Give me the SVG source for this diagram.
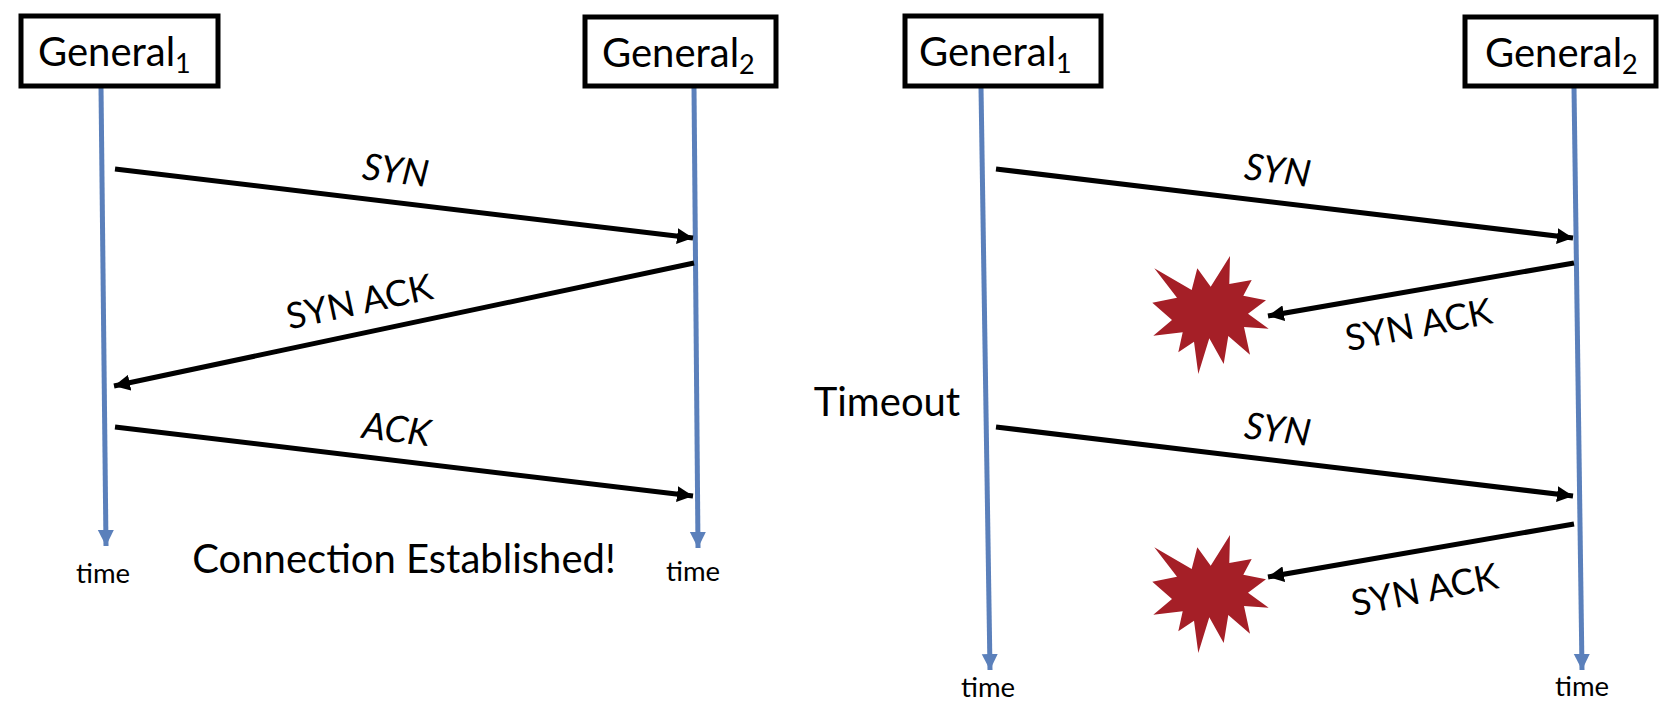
<svg xmlns="http://www.w3.org/2000/svg" xmlns:xlink="http://www.w3.org/1999/xlink" width="1678" height="720" viewBox="0 0 1678 720">
<style>
text{font-family:"Lato","Open Sans","Liberation Sans",sans-serif;fill:#000}
.box{fill:#fff;stroke:#000;stroke-width:5}
.life{stroke:#5b80bb;stroke-width:5;fill:none;marker-end:url(#blue)}
.msg{stroke:#000;stroke-width:5;fill:none;marker-end:url(#black)}
.g{font-size:40px}
.sub{font-size:27px}
.l{font-size:37px;text-anchor:middle}
.a{font-size:36px;text-anchor:middle}
.b{font-size:40px;text-anchor:middle}
.i{font-style:italic}
.t{font-size:27.5px;text-anchor:middle}
.star{fill:#a51f27}
</style>
<defs>
<marker id="black" markerUnits="userSpaceOnUse" markerWidth="18" markerHeight="16" refX="16" refY="8" orient="auto"><path d="M0 0L16 8L0 16Z" fill="#000"/></marker>
<marker id="blue" markerUnits="userSpaceOnUse" markerWidth="18" markerHeight="18" refX="16" refY="8" orient="auto"><path d="M0 0L16 8L0 16Z" fill="#5b80bb"/></marker>
<polygon id="burst" class="star" points="1230,256 1229.3,284 1251.7,280 1243.3,295.7 1266,300.3 1248,313.7 1268.7,328.7 1244,327 1250,354.7 1228.3,336 1223.7,364 1209.3,338.3 1198.3,374 1194,341.7 1178.3,352.3 1182.7,332.3 1153.3,335.7 1172,320 1152.3,302.7 1177,297.7 1154.3,268.3 1191.7,290 1197.3,268.3 1210.7,286.7"/>
</defs>
<g id="connectors">
<line class="life" x1="101" y1="87" x2="106" y2="546"/>
<line class="life" x1="694" y1="87" x2="698" y2="548"/>
<line class="life" x1="981" y1="87" x2="990" y2="670"/>
<line class="life" x1="1574" y1="87" x2="1582" y2="670"/>
<line class="msg" x1="115" y1="169" x2="693" y2="238"/>
<line class="msg" x1="694" y1="263" x2="114" y2="386"/>
<line class="msg" x1="115" y1="427" x2="693" y2="496"/>
<line class="msg" x1="996" y1="169" x2="1573" y2="238"/>
<line class="msg" x1="1574" y1="263" x2="1268" y2="316"/>
<line class="msg" x1="996" y1="427" x2="1573" y2="496"/>
<line class="msg" x1="1574" y1="524" x2="1268" y2="577"/>
</g>
<g id="general1-a"><rect class="box" x="21" y="16" width="197" height="70"/><text class="g" x="38" y="66">General<tspan class="sub" dy="7">1</tspan></text></g>
<g id="general2-a"><rect class="box" x="585" y="17" width="191" height="69"/><text class="g" x="602" y="67">General<tspan class="sub" dy="7">2</tspan></text></g>
<g id="general1-b"><rect class="box" x="905" y="16" width="196" height="70"/><text class="g" x="919" y="66">General<tspan class="sub" dy="7">1</tspan></text></g>
<g id="general2-b"><rect class="box" x="1465" y="17" width="191" height="69"/><text class="g" x="1485" y="67">General<tspan class="sub" dy="7">2</tspan></text></g>
<g id="burst-1"><use href="#burst" xlink:href="#burst"/></g>
<g id="burst-2"><use href="#burst" xlink:href="#burst" y="279"/></g>
<g id="labels">
<text class="l i" transform="translate(394 183) rotate(7)">SYN</text>
<text class="a" transform="translate(362 314) rotate(-12)">SYN ACK</text>
<text class="l i" transform="translate(395 442) rotate(7)">ACK</text>
<text class="l i" transform="translate(1276 183) rotate(7)">SYN</text>
<text class="a" transform="translate(1421 337) rotate(-11)">SYN ACK</text>
<text class="l i" transform="translate(1276 442) rotate(7)">SYN</text>
<text class="a" transform="translate(1427 602) rotate(-11)">SYN ACK</text>
<text class="b" x="887" y="416">Timeout</text>
<text class="b" x="404" y="573">Connection Established!</text>
<text class="t" x="103" y="583">time</text>
<text class="t" x="693" y="581">time</text>
<text class="t" x="988" y="697">time</text>
<text class="t" x="1582" y="696">time</text>
</g>
</svg>
